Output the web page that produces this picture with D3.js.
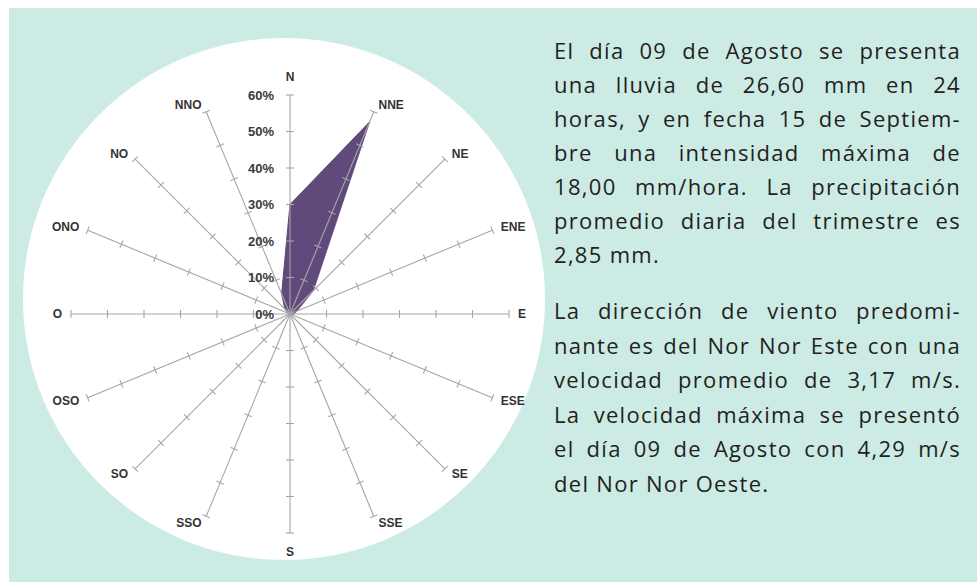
<!DOCTYPE html>
<html>
<head>
<meta charset="utf-8">
<script src="https://cdn.jsdelivr.net/npm/d3@7"></script>
<style>
  html, body { margin: 0; padding: 0; background: #ffffff; }
  svg { display: block; }
</style>
</head>
<body>
<svg id="chart" width="977" height="582"></svg>
<script>
// ---- data ----
const directions = ["N","NNE","NE","ENE","E","ESE","SE","SSE","S","SSO","SO","OSO","O","ONO","NO","NNO"];
const frequency  = [30, 57, 9, 2, 1, 0.5, 0.5, 0.5, 0.5, 0, 0, 0, 0, 0.5, 2, 6];
const radialTicks = [0, 10, 20, 30, 40, 50, 60];
const tickLabels  = ["0%", "10%", "20%", "30%", "40%", "50%", "60%"];
const paragraph1 = [
  "El día 09 de Agosto se presenta",
  "una lluvia de 26,60 mm en 24",
  "horas, y en fecha 15 de Septiem-",
  "bre una intensidad máxima de",
  "18,00 mm/hora. La precipitación",
  "promedio diaria del trimestre es",
  "2,85 mm."
];
const paragraph2 = [
  "La dirección de viento predomi-",
  "nante es del Nor Nor Este con una",
  "velocidad promedio de 3,17 m/s.",
  "La velocidad máxima se presentó",
  "el día 09 de Agosto con 4,29 m/s",
  "del Nor Nor Oeste."
];

// ---- layout ----
const svg = d3.select("#chart");
const cx = 290, cy = 314;

svg.append("rect").attr("x", 9).attr("y", 8).attr("width", 968).attr("height", 574).attr("fill", "#cdebe5");
svg.append("circle").attr("cx", 284).attr("cy", 299).attr("r", 261).attr("fill", "#ffffff");

const r = d3.scaleLinear().domain([0, 60]).range([0, 219]);
const angle = d3.scaleLinear().domain([0, directions.length]).range([0, 2 * Math.PI]);

const g = svg.append("g").attr("transform", `translate(${cx},${cy})`);

// polygon
const radial = d3.lineRadial()
  .angle((d, i) => angle(i))
  .radius(d => r(d))
  .curve(d3.curveLinearClosed);
g.append("path")
  .attr("d", radial(frequency))
  .attr("fill", "#604a7b")
  .attr("stroke", "#604a7b")
  .attr("stroke-width", 1)
  .attr("stroke-linejoin", "round");

// axes with ticks
const axisColor = "#a6a6a6";
const rmax = r(d3.max(radialTicks));
directions.forEach((dir, i) => {
  const a = angle(i);
  const ux = Math.sin(a), uy = -Math.cos(a);
  const px = -uy, py = ux; // perpendicular
  g.append("line")
    .attr("x1", 0).attr("y1", 0)
    .attr("x2", ux * rmax).attr("y2", uy * rmax)
    .attr("stroke", axisColor).attr("stroke-width", 1.1);
  radialTicks.slice(1).forEach(t => {
    const rr = r(t);
    g.append("line")
      .attr("x1", ux * rr - px * 4).attr("y1", uy * rr - py * 4)
      .attr("x2", ux * rr + px * 4).attr("y2", uy * rr + py * 4)
      .attr("stroke", axisColor).attr("stroke-width", 1.1);
  });
  const lbl = g.append("text")
    .attr("text-anchor", "middle")
    .attr("dominant-baseline", "central")
    .attr("font-family", "'Liberation Sans', Arial, sans-serif")
    .attr("font-weight", "bold")
    .attr("font-size", 12)
    .attr("fill", "#333333")
    .text(dir);
  const w = lbl.node().getComputedTextLength();
  const ex = ux * rmax, ey = uy * rmax;
  let lx, ly;
  if (Math.abs(ux) < 0.01) {
    lx = ex; ly = ey + uy * 18.5;
  } else {
    lx = ex + Math.sign(ux) * (w / 2 + 2 + 7 * Math.abs(ux));
    ly = ey + uy * 7.5;
  }
  lbl.attr("x", lx).attr("y", ly);
});

// percent labels
radialTicks.forEach((t, i) => {
  g.append("text")
    .attr("x", -16).attr("y", -r(t))
    .attr("text-anchor", "end")
    .attr("dominant-baseline", "central")
    .attr("font-family", "'Liberation Sans', Arial, sans-serif")
    .attr("font-weight", "bold")
    .attr("font-size", 13)
    .attr("fill", "#3a3a3a")
    .text(tickLabels[i]);
});

// ---- justified text ----
const textLeft = 554, textRight = 961;
function drawParagraph(lines, y0, lh) {
  lines.forEach((line, li) => {
    const y = y0 + li * lh;
    const last = li === lines.length - 1;
    const t = svg.append("text")
      .attr("y", y)
      .attr("font-family", "'Open Sans', Roboto, sans-serif")
      .attr("font-size", 22)
      .attr("letter-spacing", 1.3)
      .attr("fill", "#231f20");
    const words = line.split(" ");
    if (last) {
      t.attr("x", textLeft).text(line);
      return;
    }
    const spans = words.map(w => t.append("tspan").text(w));
    const widths = spans.map(s => s.node().getComputedTextLength());
    const total = d3.sum(widths);
    const gap = (textRight - textLeft - total) / (words.length - 1);
    let x = textLeft;
    spans.forEach((s, k) => { s.attr("x", x); x += widths[k] + gap; });
  });
}
drawParagraph(paragraph1, 58.5, 34);
drawParagraph(paragraph2, 319, 34.5);
</script>
</body>
</html>
